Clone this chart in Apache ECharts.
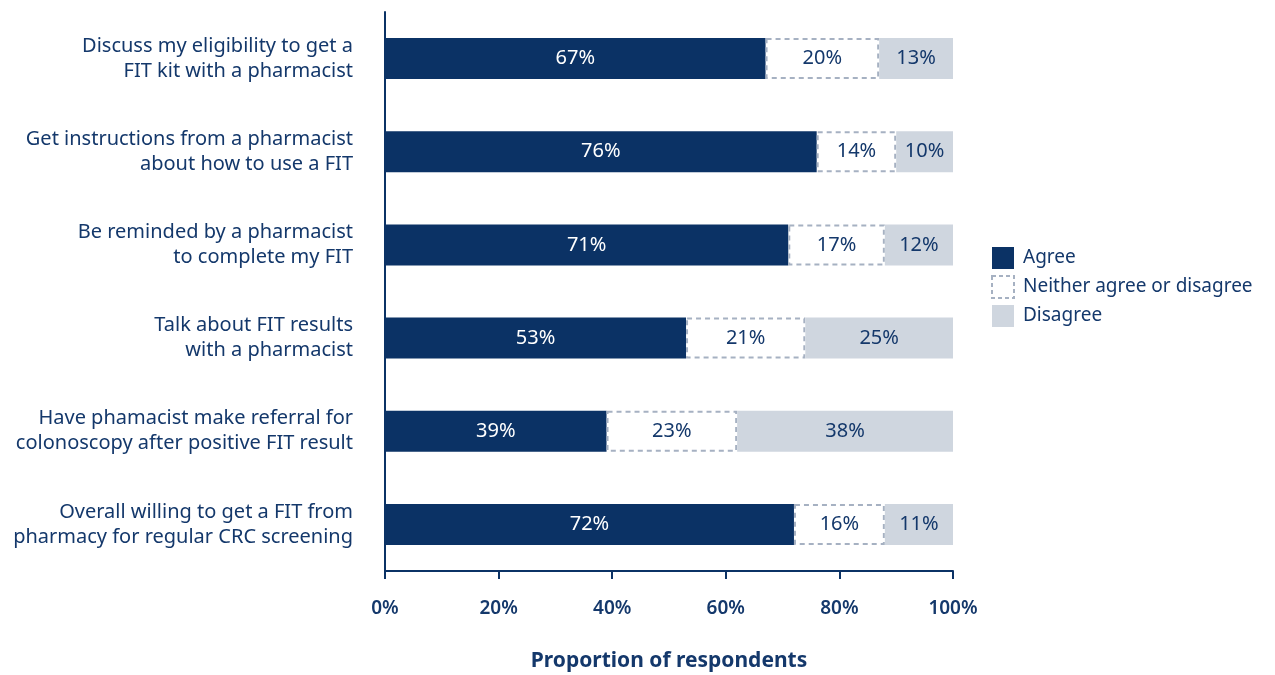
<!DOCTYPE html>
<html>
<head>
<meta charset="utf-8">
<script src="https://cdn.jsdelivr.net/npm/echarts@6/dist/echarts.min.js"></script>
<style>
  html, body { margin: 0; padding: 0; background: #fff; }
  #chart { width: 1275px; height: 675px; }
</style>
</head>
<body>
<div id="chart"></div>
<script>
// survey statements (top to bottom)
var categories = [
    'Discuss my eligibility to get a\nFIT kit with a pharmacist',
    'Get instructions from a pharmacist\nabout how to use a FIT',
    'Be reminded by a pharmacist\nto complete my FIT',
    'Talk about FIT results\nwith a pharmacist',
    'Have phamacist make referral for\ncolonoscopy after positive FIT result',
    'Overall willing to get a FIT from\npharmacy for regular CRC screening'
];
var seriesNames = ['Agree', 'Neither agree or disagree', 'Disagree'];

// bar lengths (%)
var agreeValues = [67, 76, 71, 53, 39, 72];
var neitherValues = [20, 14, 17, 21, 23, 16];
var disagreeValues = [13, 10, 12, 26, 38, 12];

// printed labels
var agreeLabels = ['67%', '76%', '71%', '53%', '39%', '72%'];
var neitherLabels = ['20%', '14%', '17%', '21%', '23%', '16%'];
var disagreeLabels = ['13%', '10%', '12%', '25%', '38%', '11%'];

var xTicks = [0, 20, 40, 60, 80, 100];

var navy = '#0b3265';
var textColor = '#14386b';
var dashColor = '#a6b1c2';
var font = 'Noto Sans';

var chart = echarts.init(document.getElementById('chart'));

function labelFrom(arr, color) {
    return {
        show: true,
        position: 'inside',
        color: color,
        fontFamily: font,
        fontSize: 20,
        formatter: function (p) { return arr[p.dataIndex]; }
    };
}

var neitherStyle = { color: '#ffffff', borderColor: dashColor, borderWidth: 2, borderType: [5, 4] };

var option = {
    animation: false,
    textStyle: { fontFamily: font },
    grid: { left: 385, right: 322, top: 12, bottom: 104, containLabel: false, outerBoundsMode: 'none' },
    legend: {
        orient: 'vertical',
        left: 986,
        top: 242,
        itemWidth: 22,
        itemHeight: 22,
        itemGap: 6,
        icon: 'rect',
        textStyle: { color: textColor, fontSize: 19, fontFamily: font, padding: [0, 0, 0, 4] },
        data: [
            { name: seriesNames[0] },
            { name: seriesNames[1], itemStyle: { color: '#ffffff', borderColor: dashColor, borderWidth: 2, borderType: [4, 3] } },
            { name: seriesNames[2] }
        ]
    },
    xAxis: {
        type: 'value',
        min: 0,
        max: 100,
        interval: 20,
        name: 'Proportion of respondents',
        nameLocation: 'middle',
        nameGap: 80,
        nameTextStyle: { color: textColor, fontSize: 21, fontWeight: 'bold', fontFamily: font },
        axisLine: { show: true, lineStyle: { color: navy, width: 2 } },
        axisTick: { show: true, length: 8, lineStyle: { color: navy, width: 2 } },
        axisLabel: {
            color: textColor, fontSize: 19, fontWeight: 600, margin: 28,
            formatter: function (v) { return xTicks.indexOf(v) >= 0 ? v + '%' : ''; }
        },
        splitLine: { show: false }
    },
    yAxis: {
        type: 'category',
        inverse: true,
        data: categories,
        axisLine: { show: true, lineStyle: { color: navy, width: 2 } },
        axisTick: { show: false },
        axisLabel: {
            color: textColor, fontSize: 20, lineHeight: 25, margin: 32, align: 'right'
        }
    },
    series: [
        {
            name: seriesNames[0],
            type: 'bar',
            stack: 'total',
            barWidth: 41,
            data: agreeValues,
            itemStyle: { color: navy },
            label: labelFrom(agreeLabels, '#ffffff')
        },
        {
            name: seriesNames[1],
            type: 'bar',
            stack: 'total',
            barWidth: 41,
            data: neitherValues,
            itemStyle: neitherStyle,
            label: labelFrom(neitherLabels, textColor)
        },
        {
            name: seriesNames[2],
            type: 'bar',
            stack: 'total',
            barWidth: 41,
            data: disagreeValues,
            itemStyle: { color: '#cfd6df' },
            label: labelFrom(disagreeLabels, textColor)
        }
    ]
};

chart.setOption(option);
</script>
</body>
</html>
